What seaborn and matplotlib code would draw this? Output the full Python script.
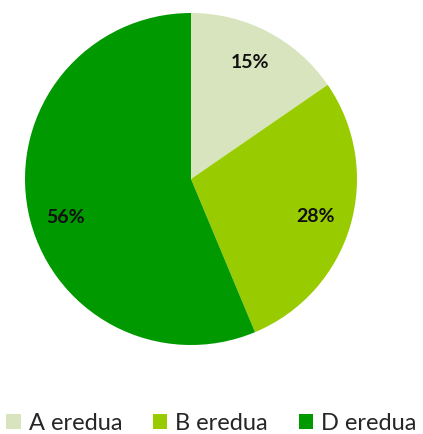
import matplotlib
matplotlib.use("Agg")
import matplotlib.pyplot as plt
import seaborn as sns
from matplotlib.patches import Patch

categories = ["A eredua", "B eredua", "D eredua"]
values = [15.4, 28.3, 56.3]
pct_labels = ["15%", "28%", "56%"]
colors = ["#d7e4bd", "#99cc00", "#009900"]

sns.set_style("white")
plt.rcParams['font.family'] = ['Lato', 'DejaVu Sans']

fig = plt.figure(figsize=(4.23, 4.35), dpi=100)
ax = fig.add_axes([25/423, (435-346)/435, 332/423, 332/435])
wedges, _ = ax.pie(values, colors=colors, startangle=90, counterclock=False,
                   radius=1.0, wedgeprops=dict(linewidth=0))
ax.set_xlim(-1, 1)
ax.set_ylim(-1, 1)
ax.set_aspect('equal')
ax.axis('off')

label_pos = [(0.355, 0.705), (0.747, -0.217), (-0.753, -0.223)]
for (x, y), t in zip(label_pos, pct_labels):
    ax.text(x, y, t, ha='center', va='center', fontsize=14, fontweight='bold', color='#111111')

handles = [Patch(facecolor=c, edgecolor='none') for c in colors]
fig.legend(handles, categories, loc='center', bbox_to_anchor=(0.5, 1 - 424/435), ncol=3,
           frameon=False, fontsize=17, handlelength=0.6, handleheight=0.6,
           handletextpad=0.35, columnspacing=1.3, borderaxespad=0)

fig.savefig("out.png", dpi=100)
